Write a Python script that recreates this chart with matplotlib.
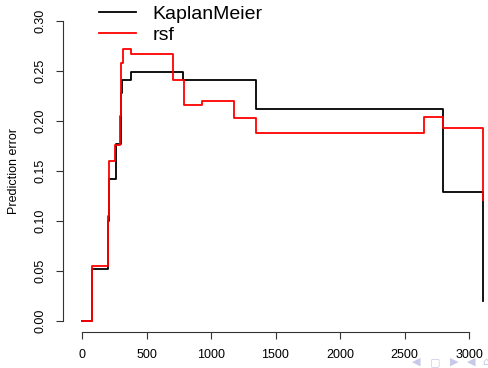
import matplotlib
matplotlib.use("Agg")
import matplotlib.pyplot as plt

plt.rcParams['font.family'] = ['Liberation Sans', 'DejaVu Sans']

# prediction error curves (step functions over time)
km_time = [0, 77, 199, 209, 261, 300, 312, 377, 785, 1349, 2796, 3110]
km_err = [0, 0.052, 0.100, 0.142, 0.177, 0.228, 0.241, 0.249, 0.241, 0.212, 0.129, 0.020]

rsf_time = [0, 77, 199, 209, 256, 295, 305, 318, 377, 708, 791, 933, 1181, 1349, 2651, 2796, 3110]
rsf_err = [0, 0.055, 0.105, 0.160, 0.176, 0.205, 0.258, 0.272, 0.267, 0.241, 0.216, 0.220,
           0.203, 0.188, 0.204, 0.193, 0.121]

x_ticks = [0, 500, 1000, 1500, 2000, 2500, 3000]
y_ticks = [0.00, 0.05, 0.10, 0.15, 0.20, 0.25, 0.30]

W, H = 489, 368
fig = plt.figure(figsize=(W / 100, H / 100), dpi=100)
# plot region runs past the right edge of the slide
left, right, top, bottom = 63, 499, 9, 332
ax = fig.add_axes([left / W, 1 - bottom / H, (right - left) / W, (bottom - top) / H])

ax.step(km_time, km_err, where='post', color='black', lw=1.3, label='KaplanMeier')
ax.step(rsf_time, rsf_err, where='post', color='#ff0000', lw=1.3, label='rsf')

px_per_t = 0.129
ax.set_xlim((left - 82) / px_per_t, (left - 82) / px_per_t + (right - left) / px_per_t)
ax.set_ylim(-(bottom - 321) / 1000, 0.30 + (21 - top) / 1000)

for s in ['top', 'right']:
    ax.spines[s].set_visible(False)
ax.spines['left'].set_bounds(0, 0.30)
ax.spines['bottom'].set_bounds(0, 3000)
for s in ['left', 'bottom']:
    ax.spines[s].set_linewidth(0.8)
    ax.spines[s].set_color('#333333')

ax.set_xticks(x_ticks)
ax.set_xticklabels([str(v) for v in x_ticks])
ax.set_yticks(y_ticks)
ax.set_yticklabels(['%.2f' % v for v in y_ticks], rotation=90, va='center')
ax.tick_params(length=5, width=0.8, color='#333333', labelsize=9, pad=7)
ax.set_ylabel('Prediction error', fontsize=9, labelpad=10)

ax.legend(loc='upper left', bbox_to_anchor=(99 / W, 1 - 5 / H), bbox_transform=fig.transFigure,
          frameon=False, fontsize=14, borderpad=0, borderaxespad=0, handlelength=1.9,
          handletextpad=0.85, labelspacing=0.2)

# beamer navigation symbols
for sx, sym in zip([416, 435, 454, 471, 486], ['◀', '▢', '▶', '◀', '⌂']):
    fig.text(sx / W, 1 - 362 / H, sym, fontsize=8, color='#c8c8e8',
             va='center', ha='center', family='DejaVu Sans')

fig.savefig('out.png', dpi=100)
